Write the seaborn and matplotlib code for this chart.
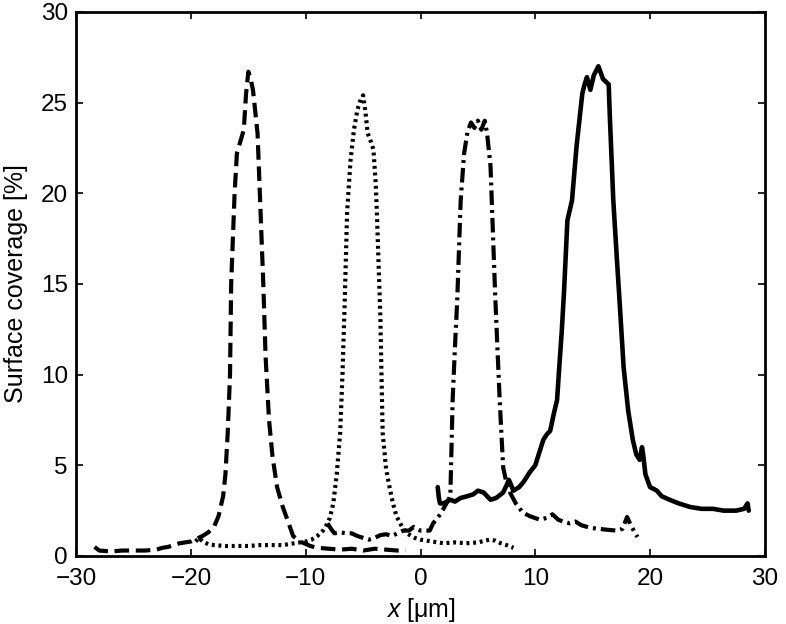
import numpy as np
import pandas as pd
import seaborn as sns
import matplotlib.pyplot as plt

# dashed profile (peak near -15)
x_dash = [-28.4, -28.0, -27.0, -26.0, -25.0, -24.0, -23.0, -22.5, -22.0, -21.0, -20.0, -19.5,
          -19.0, -18.5, -18.0, -17.6, -17.2, -17.0, -16.8, -16.6, -16.5, -16.2, -16.0, -15.4,
          -15.2, -15.0, -14.8, -14.6, -14.4, -14.2, -14.0, -13.7, -13.5, -13.2, -12.9, -12.5,
          -12.0, -11.6, -11.1, -10.5, -9.6, -9.0, -8.0, -7.0, -6.0, -5.0, -4.0, -3.0, -2.0, -1.3]
y_dash = [0.5, 0.3, 0.25, 0.3, 0.3, 0.3, 0.35, 0.45, 0.5, 0.7, 0.8, 0.95,
          1.1, 1.3, 1.6, 2.2, 3.3, 4.5, 6.8, 10.0, 15.0, 20.0, 22.2, 23.5,
          25.5, 26.7, 26.3, 25.7, 24.5, 23.3, 20.0, 15.0, 11.0, 7.5, 5.5, 3.8,
          2.7, 2.0, 1.1, 0.8, 0.55, 0.45, 0.4, 0.35, 0.4, 0.3, 0.4, 0.35, 0.3, 0.3]

# dotted profile (peak near -5)
x_dot = [-19.6, -19.3, -19.0, -18.5, -18.0, -17.0, -16.0, -15.0, -14.0, -13.0, -12.0, -11.5,
         -11.0, -10.5, -10.0, -9.5, -9.0, -8.5, -8.2, -7.9, -7.6, -7.3, -7.0, -6.8, -6.6,
         -6.4, -6.1, -5.8, -5.5, -5.2, -5.0, -4.8, -4.6, -4.3, -4.1, -3.9, -3.8, -3.5, -3.3,
         -3.0, -2.7, -2.4, -2.1, -1.6, -1.2, -0.5, 0.0, 1.0, 2.0, 3.0, 4.0, 5.0, 6.0, 6.5,
         7.0, 7.5, 8.1]
y_dot = [0.8, 1.0, 0.8, 0.65, 0.6, 0.55, 0.55, 0.55, 0.6, 0.6, 0.6, 0.65,
         0.7, 0.75, 0.8, 0.9, 1.1, 1.4, 1.7, 2.1, 2.9, 4.5, 6.8, 10.0, 14.1,
         18.9, 21.8, 23.5, 24.6, 25.2, 25.4, 24.5, 23.3, 22.8, 22.4, 20.5, 18.9, 13.2, 6.8,
         4.8, 3.8, 2.9, 2.2, 1.6, 1.25, 1.0, 0.9, 0.8, 0.7, 0.75, 0.7, 0.75, 0.9, 0.85,
         0.7, 0.6, 0.45]

# dash-dot profile (peak near 5)
x_dd = [-8.1, -7.8, -7.5, -7.0, -6.5, -6.0, -5.5, -5.0, -4.5, -4.0, -3.5, -3.0, -2.5,
        -2.0, -1.5, -1.0, -0.6, 0.0, 0.5, 0.8, 1.1, 1.6, 2.0, 2.6, 2.8, 3.0, 3.2, 3.5,
        3.8, 4.1, 4.4, 4.7, 5.0, 5.3, 5.6, 5.8, 6.1, 6.3, 6.5, 6.7, 6.9, 7.2, 7.5, 7.8, 8.3,
        8.9, 9.5, 10.4, 11.0, 11.5, 12.0, 12.4, 13.0, 13.5, 14.0, 14.8, 15.5, 16.2, 17.1,
        17.6, 18.0, 18.4, 18.9]
y_dd = [1.8, 1.5, 1.25, 1.3, 1.25, 1.25, 1.1, 1.0, 0.9, 1.0, 1.15, 1.2, 1.1,
        1.25, 1.4, 1.4, 1.6, 1.4, 1.4, 1.4, 1.8, 2.2, 2.6, 3.3, 8.6, 11.5, 14.1, 19.6,
        22.2, 23.4, 23.9, 23.6, 24.0, 23.5, 24.0, 23.3, 21.5, 18.0, 14.5, 11.5, 8.6, 4.9, 4.0, 3.5, 2.9,
        2.4, 2.2, 2.0, 2.1, 2.3, 2.0, 1.9, 1.8, 1.9, 1.7, 1.55, 1.5, 1.45, 1.4,
        1.5, 2.15, 1.6, 1.05]

# solid profile (peak near 15)
x_sol = [1.5, 1.6, 1.7, 2.0, 2.6, 3.0, 3.5, 4.1, 4.6, 5.0, 5.5, 6.1, 6.6, 7.2, 7.5,
         7.7, 8.1, 8.6, 9.0, 9.5, 10.0, 10.4, 10.7, 11.0, 11.3, 11.6, 11.9, 12.1, 12.3,
         12.5, 12.8, 13.2, 13.6, 14.1, 14.3, 14.5, 14.8, 15.1, 15.5, 15.9, 16.4, 16.5,
         16.8, 17.1, 17.4, 17.7, 18.1, 18.5, 18.8, 19.1, 19.3, 19.4, 19.6, 20.0, 20.6,
         21.0, 21.7, 22.5, 23.5, 24.5, 25.5, 26.4, 27.5, 28.2, 28.5, 28.6]
y_sol = [3.8, 3.2, 2.9, 2.9, 3.1, 3.0, 3.2, 3.3, 3.4, 3.6, 3.5, 3.1, 3.2, 3.5, 3.9,
         4.2, 3.6, 3.8, 4.1, 4.6, 5.0, 5.8, 6.4, 6.7, 6.9, 7.8, 8.6, 10.5, 12.3,
         14.5, 18.5, 19.6, 22.6, 25.5, 26.0, 26.4, 25.7, 26.5, 27.0, 26.3, 26.0, 24.2,
         19.6, 16.5, 13.5, 10.4, 8.0, 6.4, 5.6, 5.3, 6.0, 5.6, 4.5, 3.8, 3.6,
         3.3, 3.1, 2.9, 2.7, 2.6, 2.6, 2.5, 2.5, 2.6, 2.9, 2.5]

sns.set_style("ticks")
plt.rcParams['font.family'] = ['Liberation Sans', 'DejaVu Sans']
plt.rcParams['mathtext.fontset'] = 'custom'
plt.rcParams['mathtext.it'] = 'Liberation Sans:italic'
plt.rcParams['mathtext.rm'] = 'Liberation Sans'

fig = plt.figure(figsize=(7.86, 6.24), dpi=100)
ax = fig.add_axes([0.097, 0.109, 0.876, 0.872])

lw = 3.0
sns.lineplot(x=x_dash, y=y_dash, ax=ax, color='black', lw=lw, sort=False,
             linestyle=(0, (3.5, 1.6)))
sns.lineplot(x=x_dot, y=y_dot, ax=ax, color='black', lw=lw, sort=False,
             linestyle=(0, (0.7, 0.9)))
sns.lineplot(x=x_dd, y=y_dd, ax=ax, color='black', lw=lw, sort=False,
             linestyle=(0, (3.5, 1.2, 0.7, 1.2)))
sns.lineplot(x=x_sol, y=y_sol, ax=ax, color='black', lw=lw + 0.3, sort=False)

ax.set_xlim(-30, 30)
ax.set_ylim(0, 30)
ax.set_xticks(np.arange(-30, 31, 10))
ax.set_yticks(np.arange(0, 31, 5))
ax.tick_params(direction='in', top=True, right=True, length=5, width=1.2,
               labelsize=17.5, colors='black')
ax.tick_params(axis='x', pad=9)
ax.tick_params(axis='y', pad=6)
for s in ax.spines.values():
    s.set_linewidth(2)
    s.set_color('black')

ax.set_xlabel(r'$x$ [μm]', fontsize=18, labelpad=4, color='black')
ax.set_ylabel('Surface coverage [%]', fontsize=18, labelpad=9, color='black')

fig.savefig('out.png', dpi=100)
